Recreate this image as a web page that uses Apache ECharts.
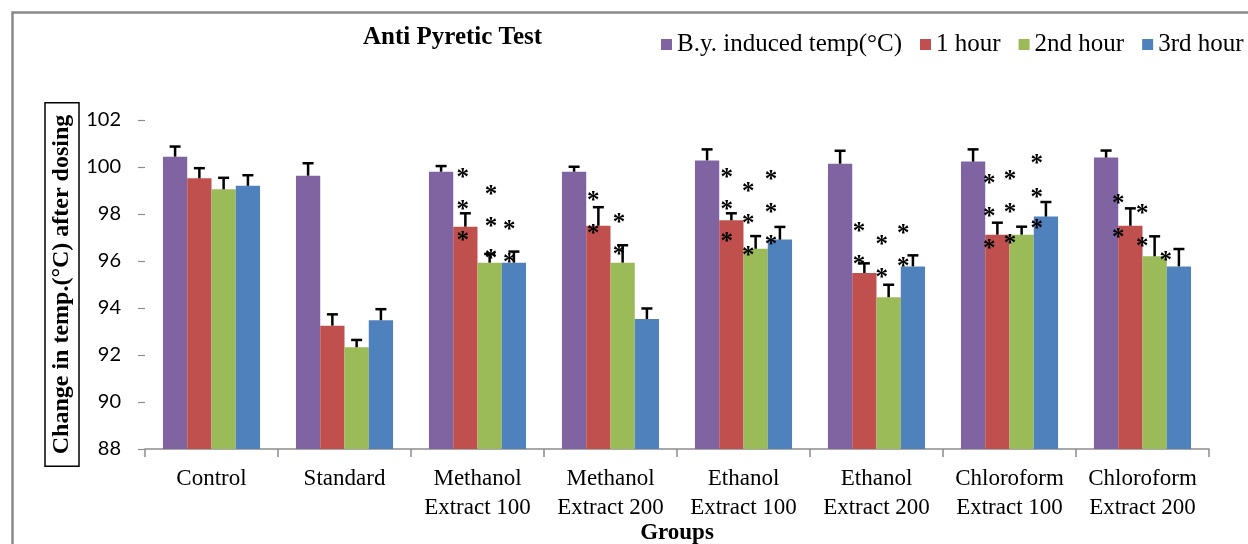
<!DOCTYPE html>
<html>
<head>
<meta charset="utf-8">
<script src="https://cdn.jsdelivr.net/npm/echarts@6/dist/echarts.min.js"></script>
<style>
html,body{margin:0;padding:0;background:#fff;}
#chart{width:1248px;height:544px;}
</style>
</head>
<body>
<div id="chart"></div>
<script>
// ---- data ----
const categories = ['Control', 'Standard', 'Methanol\nExtract 100', 'Methanol\nExtract 200',
  'Ethanol\nExtract 100', 'Ethanol\nExtract 200', 'Chloroform\nExtract 100', 'Chloroform\nExtract 200'];
const seriesNames = ['B.y. induced temp(°C)', '1 hour', '2nd hour', '3rd hour'];
const inducedTemp = [100.44, 99.63, 99.80, 99.80, 100.28, 100.14, 100.23, 100.40];
const hour1 = [99.52, 93.25, 97.46, 97.50, 97.73, 95.49, 97.12, 97.50];
const hour2 = [99.05, 92.33, 95.93, 95.93, 96.52, 94.46, 97.12, 96.20];
const hour3 = [99.20, 93.48, 95.93, 93.53, 96.91, 95.77, 97.89, 95.77];
const inducedErr = [0.43, 0.53, 0.24, 0.21, 0.47, 0.55, 0.52, 0.30];
const hour1Err = [0.43, 0.48, 0.57, 0.79, 0.30, 0.41, 0.51, 0.74];
const hour2Err = [0.49, 0.31, 0.37, 0.74, 0.54, 0.53, 0.34, 0.85];
const hour3Err = [0.45, 0.47, 0.47, 0.45, 0.54, 0.47, 0.62, 0.74];
// significance asterisks: position along the category axis (0..8) and value
const starX = [2.389, 2.389, 2.389, 2.602, 2.602, 2.602, 2.739, 2.739,
  3.371, 3.371, 3.564, 3.564,
  4.374, 4.374, 4.374, 4.536, 4.536, 4.536, 4.707, 4.707, 4.707,
  5.368, 5.368, 5.539, 5.539, 5.702, 5.702,
  6.348, 6.348, 6.348, 6.504, 6.504, 6.504, 6.705, 6.705, 6.705,
  7.318, 7.318, 7.498, 7.498, 7.674];
const starY = [99.73, 98.34, 97.03, 98.99, 97.63, 96.26, 97.49, 96.11,
  98.73, 97.35, 97.82, 96.44,
  99.73, 98.34, 97.01, 99.14, 97.78, 96.40, 99.62, 98.24, 96.89,
  97.42, 96.04, 96.87, 95.48, 97.32, 95.93,
  99.48, 98.06, 96.72, 99.62, 98.24, 96.92, 100.30, 98.88, 97.57,
  98.62, 97.18, 98.20, 96.80, 96.18];
const yTicks = { min: 88, max: 102, interval: 2 };

// ---- styling ----
const colors = ['#8064A2', '#C0504D', '#9BBB59', '#4F81BD'];
const serif = '"Liberation Serif", "Times New Roman", serif';
const catGap = 0.27;

const valueSets = [inducedTemp, hour1, hour2, hour3];
const errSets = [inducedErr, hour1Err, hour2Err, hour3Err];
const errData = [];
errSets.forEach((errs, si) => errs.forEach((e, ci) => errData.push([ci, si, valueSets[si][ci], e])));
const starData = starX.map((x, i) => [x, starY[i]]);

const barSeries = seriesNames.map((name, i) => ({
  name: name, type: 'bar', data: valueSets[i],
  barGap: 0, barCategoryGap: (catGap * 100) + '%',
  itemStyle: { color: colors[i] }, z: 2
}));

const chart = echarts.init(document.getElementById('chart'), null, { renderer: 'canvas' });
chart.setOption({
  animation: false,
  backgroundColor: '#fff',
  title: {
    text: 'Anti Pyretic Test', left: 363, top: 25, padding: 0,
    textStyle: { fontFamily: serif, fontSize: 25, fontWeight: 'bold', color: '#000' }
  },
  legend: {
    data: seriesNames, left: 661, top: 32, padding: 0,
    itemWidth: 11, itemHeight: 11, itemGap: 18, icon: 'rect',
    textStyle: { fontFamily: serif, fontSize: 25, color: '#000' }
  },
  graphic: [{
    type: 'rect', left: 10, top: 10, z: -1, silent: true,
    shape: { width: 1300, height: 600 },
    style: { fill: 'none', stroke: '#8a8a8a', lineWidth: 2.5 }
  }],
  grid: { left: 145, right: 39, top: 120, bottom: 95, outerBoundsMode: 'none', containLabel: false },
  xAxis: [{
    type: 'category', data: categories,
    axisLine: { lineStyle: { color: '#8c8c8c', width: 1.5 } },
    axisTick: { show: true, length: 8, lineStyle: { color: '#8c8c8c', width: 1.5 } },
    axisLabel: { interval: 0, margin: 15, fontFamily: serif, fontSize: 23, lineHeight: 29, color: '#000' },
    name: 'Groups', nameLocation: 'middle', nameGap: 73, nameMoveOverlap: false,
    nameTextStyle: { fontFamily: serif, fontSize: 23, fontWeight: 'bold', color: '#000' }
  }, {
    type: 'value', min: 0, max: 8, show: false
  }],
  yAxis: {
    type: 'value', min: yTicks.min, max: yTicks.max, interval: yTicks.interval,
    splitLine: { show: false },
    axisLine: { show: false },
    axisTick: { show: true, length: 7, lineStyle: { color: '#8c8c8c', width: 1.2 } },
    axisLabel: { margin: 24, fontFamily: 'Lato, "Open Sans", sans-serif', fontSize: 20, color: '#000' },
    name: 'Change in temp.(°C) after dosing', nameLocation: 'middle', nameGap: 66, nameRotate: 90,
    nameMoveOverlap: false,
    nameTextStyle: {
      fontFamily: serif, fontSize: 24, fontWeight: 'bold', color: '#000',
      borderColor: '#000', borderWidth: 1.5, padding: [5, 12]
    }
  },
  series: barSeries.concat([{
    type: 'custom', name: 'err', z: 3, silent: true,
    data: errData,
    renderItem: function (params, api) {
      const ci = api.value(0), si = api.value(1), v = api.value(2), e = api.value(3);
      const cw = api.size([1, 0])[0];
      const gw = cw * (1 - catGap);
      const bw = gw / 4;
      const base = api.coord([ci, v]);
      const x = base[0] - gw / 2 + bw * (si + 0.5);
      const top = api.coord([ci, v + e])[1];
      return {
        type: 'group', children: [
          { type: 'line', shape: { x1: x, y1: base[1], x2: x, y2: top }, style: { stroke: '#000', lineWidth: 2.5 } },
          { type: 'line', shape: { x1: x - 5.5, y1: top, x2: x + 5.5, y2: top }, style: { stroke: '#000', lineWidth: 2.5 } }
        ]
      };
    }
  }, {
    type: 'custom', name: 'stars', z: 4, silent: true, xAxisIndex: 1,
    data: starData,
    renderItem: function (params, api) {
      const p = api.coord([api.value(0), api.value(1)]);
      return {
        type: 'text', x: p[0], y: p[1] + 5,
        style: { text: '*', font: 'bold 25px ' + serif, fill: '#000', align: 'center', verticalAlign: 'middle' }
      };
    }
  }])
});
</script>
</body>
</html>
